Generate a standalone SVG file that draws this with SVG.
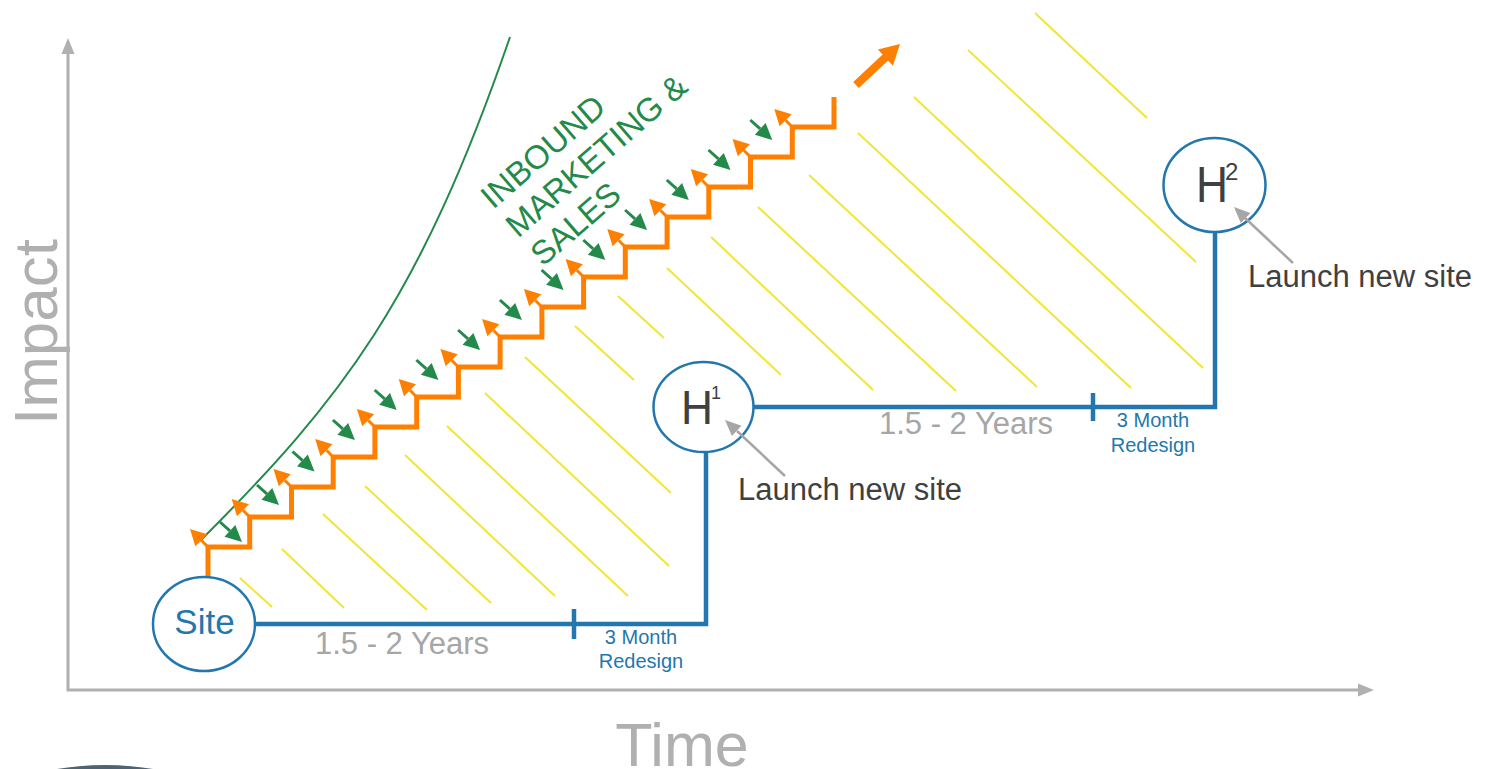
<svg xmlns="http://www.w3.org/2000/svg" xmlns:xlink="http://www.w3.org/1999/xlink" width="1493" height="769" viewBox="0 0 1493 769">
<style>
  .txt { font-family: "Liberation Sans", Arial, sans-serif; }
  .axis { stroke: #b0b0b0; stroke-width: 3; fill: none; }
  .axhead { fill: #b0b0b0; }
  .hatch line { stroke: #f2e535; stroke-width: 2; }
  .blue { stroke: #2377ae; stroke-width: 4.5; fill: none; }
  .node { fill: #ffffff; stroke: #2377ae; stroke-width: 2.5; }
  .stair { stroke: #ff8000; stroke-width: 5; fill: none; stroke-linejoin: miter; }
  .gray-arrow { stroke: #a6a6a6; stroke-width: 2.5; fill: none; }
  .gray-head { fill: #a6a6a6; }
  .axislabel { fill: #b0b0b0; }
  .years { fill: #a6a6a6; font-size: 31px; }
  .redesign { fill: #2377ae; font-size: 20px; }
  .launch { fill: #404040; font-size: 31px; }
  .hname { fill: #404040; }
</style>
<defs>
  <g id="garrow">
    <line x1="-42" y1="-7" x2="-32.1" y2="1.9" stroke="#238a4a" stroke-width="3"/>
    <polygon points="-20,13 -37.5,7.8 -26.7,-4" fill="#238a4a"/>
  </g>
  <g id="oarrow">
    <line x1="0" y1="0" x2="-6.7" y2="-6.7" stroke="#ff8000" stroke-width="3"/>
    <polygon points="-18,-18 -0.7,-12.7 -12.7,-0.7" fill="#ff8000"/>
  </g>
</defs>

<rect width="1493" height="769" fill="#ffffff"/>

<!-- bottom-left partial shape -->
<ellipse cx="105" cy="825" rx="134" ry="60" fill="#4e6475"/>

<!-- axes -->
<g id="axes">
  <path class="axis" d="M68,52 V690 H1360"/>
  <polygon class="axhead" points="68,38 61.5,54 74.5,54"/>
  <polygon class="axhead" points="1374,690 1358,683.5 1358,696.5"/>
  <text class="txt axislabel" x="57" y="332" font-size="62" text-anchor="middle" transform="rotate(-90 57 332)">Impact</text>
  <text class="txt axislabel" x="682" y="766" font-size="61" text-anchor="middle">Time</text>
</g>

<!-- yellow hatching -->
<g id="hatch" class="hatch">
  <line x1="240" y1="578" x2="272" y2="607"/>
  <line x1="282" y1="549" x2="344" y2="608"/>
  <line x1="323" y1="514" x2="427" y2="610"/>
  <line x1="365" y1="486" x2="491" y2="603"/>
  <line x1="405" y1="455" x2="555" y2="596"/>
  <line x1="447" y1="426" x2="628" y2="596"/>
  <line x1="485" y1="393" x2="669" y2="566"/>
  <line x1="525" y1="357" x2="671" y2="493"/>
  <line x1="575" y1="326" x2="634" y2="380"/>
  <line x1="618" y1="296" x2="664" y2="338"/>
  <line x1="667" y1="268" x2="781" y2="375"/>
  <line x1="711" y1="237" x2="873" y2="390"/>
  <line x1="758" y1="207" x2="956" y2="391"/>
  <line x1="809" y1="175" x2="1037" y2="387"/>
  <line x1="858" y1="133" x2="1131" y2="388"/>
  <line x1="914" y1="97" x2="1203" y2="368"/>
  <line x1="968" y1="50" x2="1196" y2="262"/>
  <line x1="1035" y1="13" x2="1147" y2="118"/>
</g>

<!-- inbound marketing curve and label -->
<g id="inbound">
  <path d="M200,541 C342,399 418.7,301.6 510,37" stroke="#238a4a" stroke-width="2" fill="none"/>
  <text class="txt" fill="#238a4a" font-size="33" transform="translate(493,210) rotate(-41)">
    <tspan x="0" y="0">INBOUND</tspan>
    <tspan x="0" y="38">MARKETING &amp;</tspan>
    <tspan x="0" y="76">SALES</tspan>
  </text>
</g>

<!-- green arrows -->
<g id="green-arrows">
  <use xlink:href="#garrow" x="262" y="529"/>
  <use xlink:href="#garrow" x="299" y="492"/>
  <use xlink:href="#garrow" x="334.5" y="458.5"/>
  <use xlink:href="#garrow" x="374.9" y="427"/>
  <use xlink:href="#garrow" x="416.7" y="397"/>
  <use xlink:href="#garrow" x="458.4" y="367"/>
  <use xlink:href="#garrow" x="500.1" y="337"/>
  <use xlink:href="#garrow" x="541.9" y="307"/>
  <use xlink:href="#garrow" x="583.6" y="277"/>
  <use xlink:href="#garrow" x="625.3" y="247"/>
  <use xlink:href="#garrow" x="667.1" y="217"/>
  <use xlink:href="#garrow" x="708.8" y="187"/>
  <use xlink:href="#garrow" x="750.5" y="157"/>
  <use xlink:href="#garrow" x="792.3" y="127"/>
</g>

<!-- orange staircase -->
<g id="staircase">
  <path class="stair" d="M208,578 V547 H249.7 V517 H291.5 V487 H333.2 V457 H374.9 V427 H416.7 V397 H458.4 V367 H500.1 V337 H541.9 V307 H583.6 V277 H625.3 V247 H667.1 V217 H708.8 V187 H750.5 V157 H792.3 V127 H834 V97"/>
  <use xlink:href="#oarrow" x="208" y="547"/>
  <use xlink:href="#oarrow" x="249.7" y="517"/>
  <use xlink:href="#oarrow" x="291.5" y="487"/>
  <use xlink:href="#oarrow" x="333.2" y="457"/>
  <use xlink:href="#oarrow" x="374.9" y="427"/>
  <use xlink:href="#oarrow" x="416.7" y="397"/>
  <use xlink:href="#oarrow" x="458.4" y="367"/>
  <use xlink:href="#oarrow" x="500.1" y="337"/>
  <use xlink:href="#oarrow" x="541.9" y="307"/>
  <use xlink:href="#oarrow" x="583.6" y="277"/>
  <use xlink:href="#oarrow" x="625.3" y="247"/>
  <use xlink:href="#oarrow" x="667.1" y="217"/>
  <use xlink:href="#oarrow" x="708.8" y="187"/>
  <use xlink:href="#oarrow" x="750.5" y="157"/>
  <use xlink:href="#oarrow" x="792.3" y="127"/>
  <line x1="856" y1="85" x2="887" y2="56" stroke="#ff8000" stroke-width="8"/>
  <polygon points="900,44 892.9,65.7 877.9,49.6" fill="#ff8000"/>
</g>

<!-- blue connectors -->
<g id="connectors">
  <path class="blue" d="M255,624 H706 V452"/>
  <path class="blue" d="M574,609 V639"/>
  <path class="blue" d="M754,407 H1215 V232"/>
  <path class="blue" d="M1093,393 V421"/>
</g>

<!-- labels -->
<g id="labels" class="txt">
  <text class="years" x="402" y="654" text-anchor="middle">1.5 - 2 Years</text>
  <text class="redesign" x="641" y="644" text-anchor="middle">3 Month</text>
  <text class="redesign" x="641" y="668" text-anchor="middle">Redesign</text>
  <text class="years" x="966" y="434" text-anchor="middle">1.5 - 2 Years</text>
  <text class="redesign" x="1153" y="427" text-anchor="middle">3 Month</text>
  <text class="redesign" x="1153" y="452" text-anchor="middle">Redesign</text>
  <text class="launch" x="738" y="500">Launch new site</text>
  <text class="launch" x="1248" y="287">Launch new site</text>
</g>

<!-- nodes -->
<g id="node-site">
  <ellipse class="node" cx="204" cy="624" rx="51" ry="47"/>
  <text class="txt" x="204.5" y="634" font-size="35" fill="#2377ae" text-anchor="middle">Site</text>
</g>
<g id="node-h1">
  <ellipse class="node" cx="703.5" cy="407" rx="50" ry="45"/>
  <text class="txt hname" x="681" y="424" font-size="48" textLength="32" lengthAdjust="spacingAndGlyphs">H</text>
  <text class="txt hname" x="711" y="399" font-size="18">1</text>
</g>
<g id="node-h2">
  <ellipse class="node" cx="1214.5" cy="185" rx="51" ry="47"/>
  <text class="txt hname" x="1196" y="202" font-size="50" textLength="32" lengthAdjust="spacingAndGlyphs">H</text>
  <text class="txt hname" x="1225" y="180" font-size="24">2</text>
</g>

<!-- launch callout arrows -->
<g id="callouts">
  <line class="gray-arrow" x1="785" y1="476" x2="737" y2="431"/>
  <polygon class="gray-head" points="725,420 741.5,425.8 731.9,436"/>
  <line class="gray-arrow" x1="1293" y1="263" x2="1245" y2="218"/>
  <polygon class="gray-head" points="1234,207 1250.4,212.9 1240.8,223.1"/>
</g>
</svg>
